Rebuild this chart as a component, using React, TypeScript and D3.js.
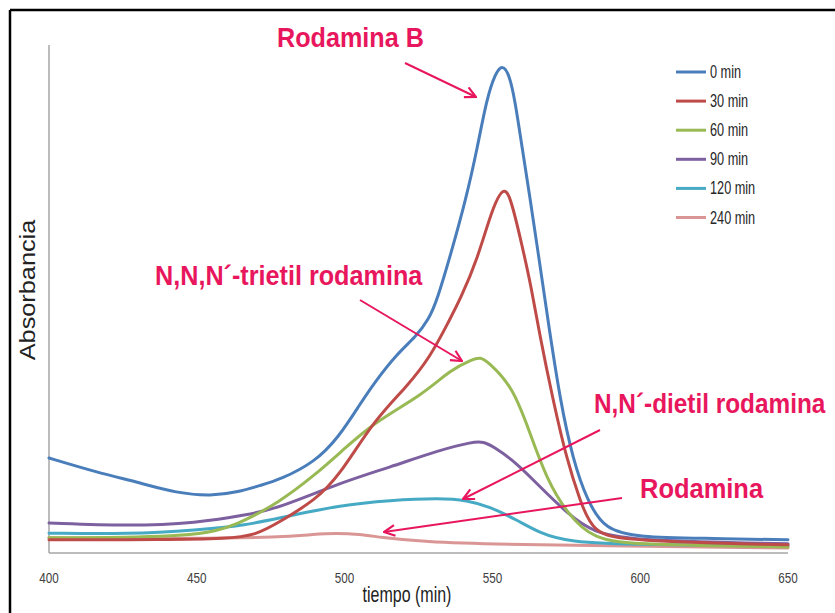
import React from "react";
import * as d3 from "d3";

const legendLabels = ["0 min", "30 min", "60 min", "90 min", "120 min", "240 min"];
const seriesColors = ["#4A7EBB", "#BE4B48", "#98B954", "#7D60A0", "#46AAC5", "#D99694"];
const xTicks = [400, 450, 500, 550, 600, 650];

const abs0min: [number, number][] = [
  [400, 0.187], [416, 0.159], [431, 0.138], [443, 0.118], [455, 0.112], [464, 0.12],
  [472, 0.134], [478, 0.144], [490, 0.179], [498, 0.228], [505, 0.291], [510, 0.335],
  [518, 0.394], [524, 0.425], [528.5, 0.46], [531.3, 0.498], [536, 0.59], [541, 0.695],
  [545, 0.8], [548, 0.892], [551, 0.945], [553.5, 0.962], [555.8, 0.94], [557.6, 0.892],
  [560, 0.8], [562.7, 0.7], [565.5, 0.59], [568.5, 0.47], [572.9, 0.3], [577.3, 0.183],
  [582, 0.104], [588, 0.045], [600, 0.031], [620, 0.029], [650, 0.026],
];
const abs30min: [number, number][] = [
  [400, 0.026], [440, 0.026], [460, 0.028], [470, 0.035], [478, 0.061], [490, 0.104],
  [498, 0.15], [510, 0.262], [521, 0.327], [529, 0.386], [535.5, 0.459], [539, 0.498],
  [545, 0.579], [550, 0.68], [554.3, 0.728], [557, 0.68], [560, 0.606], [563, 0.528],
  [566, 0.429], [570.5, 0.301], [575.2, 0.183], [579.6, 0.104], [584, 0.039], [595, 0.024],
  [650, 0.016],
];
const abs60min: [number, number][] = [
  [400, 0.03], [450, 0.031], [463.6, 0.055], [478, 0.1], [490, 0.154], [498.4, 0.197],
  [509.6, 0.256], [526.5, 0.312], [535.7, 0.36], [543.4, 0.382], [546, 0.385], [548.2, 0.378],
  [557, 0.327], [562.7, 0.236], [568.5, 0.144], [575.2, 0.079], [584, 0.026], [600, 0.016],
  [650, 0.012],
];
const abs90min: [number, number][] = [
  [400, 0.059], [427, 0.053], [450, 0.059], [467, 0.075], [478, 0.089], [498.4, 0.138],
  [515.4, 0.169], [532.3, 0.203], [543.4, 0.219], [547, 0.219], [550.2, 0.21], [558.3, 0.177],
  [566.1, 0.13], [575.2, 0.079], [584, 0.039], [600, 0.024], [650, 0.018],
];
const abs120min: [number, number][] = [
  [400, 0.039], [427, 0.037], [450, 0.045], [467, 0.055], [478, 0.069], [498.4, 0.094],
  [515.4, 0.104], [532.3, 0.108], [541.4, 0.104], [549.2, 0.091], [558.3, 0.065], [566.1, 0.039],
  [575.2, 0.022], [600, 0.016], [650, 0.014],
];
const abs240min: [number, number][] = [
  [400, 0.03], [450, 0.028], [478, 0.031], [490, 0.037], [497, 0.039], [505, 0.037],
  [512, 0.031], [526, 0.022], [555, 0.016], [650, 0.01],
];

const allSeries = [abs0min, abs30min, abs60min, abs90min, abs120min, abs240min];

const W = 835;
const H = 613;

export default function App() {
  const x = d3.scaleLinear().domain([400, 650]).range([49, 788]);
  const y = d3.scaleLinear().domain([0, 1]).range([553, 45]);
  const line = d3
    .line<[number, number]>()
    .x((d) => x(d[0]))
    .y((d) => y(d[1]))
    .curve(d3.curveBasis);

  const pink = "#E8175D";
  const sans = "'Liberation Sans', Arial, sans-serif";

  const annotations = [
    { text: "Rodamina B", tx: 277, ty: 47, sx: 0.9 },
    { text: "N,N,N´-trietil rodamina", tx: 155, ty: 285, sx: 0.9 },
    { text: "N,N´-dietil rodamina", tx: 594, ty: 413, sx: 0.87 },
    { text: "Rodamina", tx: 640, ty: 498, sx: 0.91 },
  ];

  return (
    <svg
      width={W}
      height={H}
      style={{ position: "absolute", left: 0, top: 0, background: "#fff" }}
    >
      <defs>
        <marker
          id="arr"
          viewBox="0 0 12 12"
          refX="11"
          refY="6"
          markerWidth="13"
          markerHeight="13"
          markerUnits="userSpaceOnUse"
          orient="auto"
        >
          <path d="M1,1 L11,6 L1,11" fill="none" stroke={pink} strokeWidth="2" />
        </marker>
      </defs>
      <rect x={0} y={0} width={W} height={H} fill="#fff" />
      {/* outer border */}
      <line x1={10} y1={10} x2={W} y2={10} stroke="#000" strokeWidth={2.5} />
      <line x1={10} y1={10} x2={10} y2={H} stroke="#000" strokeWidth={2.5} />

      {/* axes */}
      <line x1={x(400)} y1={45} x2={x(400)} y2={y(0)} stroke="#A6A6A6" strokeWidth={1.5} />
      <line x1={x(400)} y1={y(0)} x2={x(650)} y2={y(0)} stroke="#A6A6A6" strokeWidth={1.5} />

      {xTicks.map((t) => (
        <g key={t} transform={`translate(${x(t)},583) scale(0.9,1.1)`}>
          <text textAnchor="middle" fontFamily={sans} fontSize={13} fill="#404040">
            {t}
          </text>
        </g>
      ))}
      <g transform="translate(407,602) scale(0.82,1.1)">
        <text textAnchor="middle" fontFamily={sans} fontSize={19.5} fill="#222">
          tiempo (min)
        </text>
      </g>
      <g transform="translate(35,290) rotate(-90) scale(1.15,1)">
        <text textAnchor="middle" fontFamily={sans} fontSize={22} fill="#222">
          Absorbancia
        </text>
      </g>

      {/* curves, drawn back to front */}
      {allSeries
        .map((s, i) => ({ s, i }))
        .reverse()
        .map(({ s, i }) => (
          <path
            key={i}
            d={line(s) || ""}
            fill="none"
            stroke={seriesColors[i]}
            strokeWidth={3}
            strokeLinejoin="round"
            strokeLinecap="round"
          />
        ))}

      {/* legend */}
      {legendLabels.map((lab, i) => {
        const ly = 72 + i * 29.1;
        return (
          <g key={lab}>
            <line x1={676} y1={ly} x2={706} y2={ly} stroke={seriesColors[i]} strokeWidth={3} />
            <g transform={`translate(710,${ly + 6}) scale(0.82,1.15)`}>
              <text fontFamily={sans} fontSize={15.5} fill="#262626">
                {lab}
              </text>
            </g>
          </g>
        );
      })}

      {/* annotations */}
      {annotations.map((a) => (
        <g key={a.text} transform={`translate(${a.tx},${a.ty}) scale(${a.sx},1)`}>
          <text fontFamily={sans} fontWeight="bold" fontSize={28} fill={pink}>
            {a.text}
          </text>
        </g>
      ))}
      <g stroke={pink} strokeWidth={2} fill="none">
        <line x1={405} y1={63} x2={476} y2={97} markerEnd="url(#arr)" />
        <line x1={360} y1={300} x2={462} y2={361} markerEnd="url(#arr)" />
        <line x1={600} y1={430} x2={463} y2={499} markerEnd="url(#arr)" />
        <line x1={622} y1={498} x2={384} y2={532} markerEnd="url(#arr)" />
      </g>
    </svg>
  );
}
